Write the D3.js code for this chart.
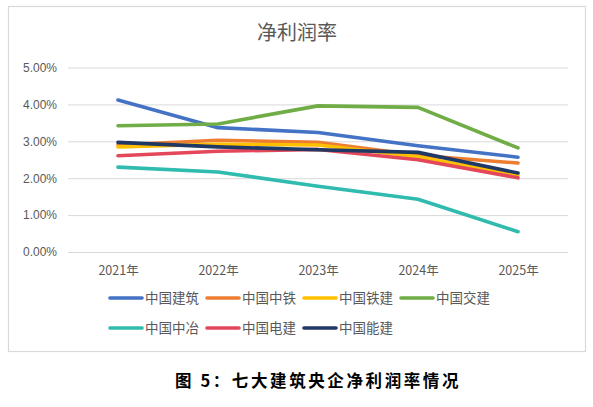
<!DOCTYPE html>
<html>
<head>
<meta charset="utf-8">
<script src="https://cdn.jsdelivr.net/npm/d3@7"></script>
<style>
  body { margin: 0; background: #fff; }
  svg text { font-family: "Noto Sans CJK SC", "Noto Sans", sans-serif; }
</style>
</head>
<body>
<div id="chart"></div>
<script>
// data (percent)
const years = ["2021年", "2022年", "2023年", "2024年", "2025年"];
const companies = ["中国建筑", "中国中铁", "中国铁建", "中国交建", "中国中冶", "中国电建", "中国能建"];
const colors = ["#4472C4", "#ED7D31", "#FFC000", "#70AD47", "#2FBBAE", "#E5475A", "#203864"];
const jianzhu = [4.12, 3.37, 3.24, 2.88, 2.57];
const zhongtie = [2.90, 3.03, 2.97, 2.62, 2.41];
const tiejian = [2.85, 2.92, 2.90, 2.58, 2.08];
const jiaojian = [3.42, 3.47, 3.96, 3.92, 2.82];
const zhongye = [2.30, 2.17, 1.78, 1.43, 0.55];
const dianjian = [2.61, 2.73, 2.78, 2.50, 2.01];
const nengjian = [2.97, 2.85, 2.77, 2.70, 2.14];
const series = [jianzhu, zhongtie, tiejian, jiaojian, zhongye, dianjian, nengjian];
const yTicks = [0, 1, 2, 3, 4, 5];

const width = 593, height = 407;
const svg = d3.select("#chart").append("svg")
  .attr("width", width).attr("height", height);

// chart frame
svg.append("rect")
  .attr("x", 8.5).attr("y", 6.5).attr("width", 577).attr("height", 345)
  .attr("fill", "#fff").attr("stroke", "#d9d9d9").attr("stroke-width", 1.2);

svg.append("text")
  .attr("x", 297).attr("y", 40)
  .attr("text-anchor", "middle")
  .attr("font-size", 20).attr("fill", "#595959")
  .text("净利润率");

const x = d3.scalePoint().domain(years).range([68, 568]).padding(0.5);
const y = d3.scaleLinear().domain([0, 5]).range([252, 67.5]);

// gridlines + y labels
const yAxis = svg.append("g")
  .attr("transform", "translate(68,0)")
  .call(d3.axisLeft(y).tickValues(yTicks).tickSize(-500).tickFormat(d => d.toFixed(2) + "%"));
yAxis.select(".domain").remove();
yAxis.selectAll(".tick line").attr("stroke", "#d9d9d9");
yAxis.selectAll(".tick text")
  .attr("x", -11).attr("font-size", 12).attr("fill", "#595959")
  .style("font-family", "Liberation Sans, sans-serif");

// x labels
const xAxis = svg.append("g")
  .attr("transform", "translate(0,252)")
  .call(d3.axisBottom(x).tickSize(0));
xAxis.select(".domain").remove();
xAxis.selectAll(".tick text")
  .attr("y", 14).attr("font-size", 12.5).attr("fill", "#595959");

// lines
const line = d3.line().x((d, i) => x(years[i])).y(d => y(d));
svg.append("g")
  .selectAll("path")
  .data(series)
  .join("path")
  .attr("d", line)
  .attr("fill", "none")
  .attr("stroke", (d, i) => colors[i])
  .attr("stroke-width", 3.6)
  .attr("stroke-linejoin", "round")
  .attr("stroke-linecap", "round");

// legend, 4 per row
const legend = svg.append("g")
  .selectAll("g")
  .data(companies)
  .join("g")
  .attr("transform", (d, i) => `translate(${110 + (i % 4) * 97},${298 + Math.floor(i / 4) * 30})`);
legend.append("line")
  .attr("x1", 0).attr("x2", 32).attr("y1", 0).attr("y2", 0)
  .attr("stroke", (d, i) => colors[i]).attr("stroke-width", 3.6)
  .attr("stroke-linecap", "round");
legend.append("text")
  .attr("x", 35).attr("y", 0).attr("dy", "0.35em")
  .attr("font-size", 13.5).attr("fill", "#595959")
  .text(d => d);

// caption
svg.append("text")
  .attr("x", 318).attr("y", 387)
  .attr("text-anchor", "middle")
  .attr("font-size", 16.5).attr("font-weight", "bold").attr("fill", "#000")
  .attr("letter-spacing", 2.6)
  .text("图 5：七大建筑央企净利润率情况");
</script>
</body>
</html>
